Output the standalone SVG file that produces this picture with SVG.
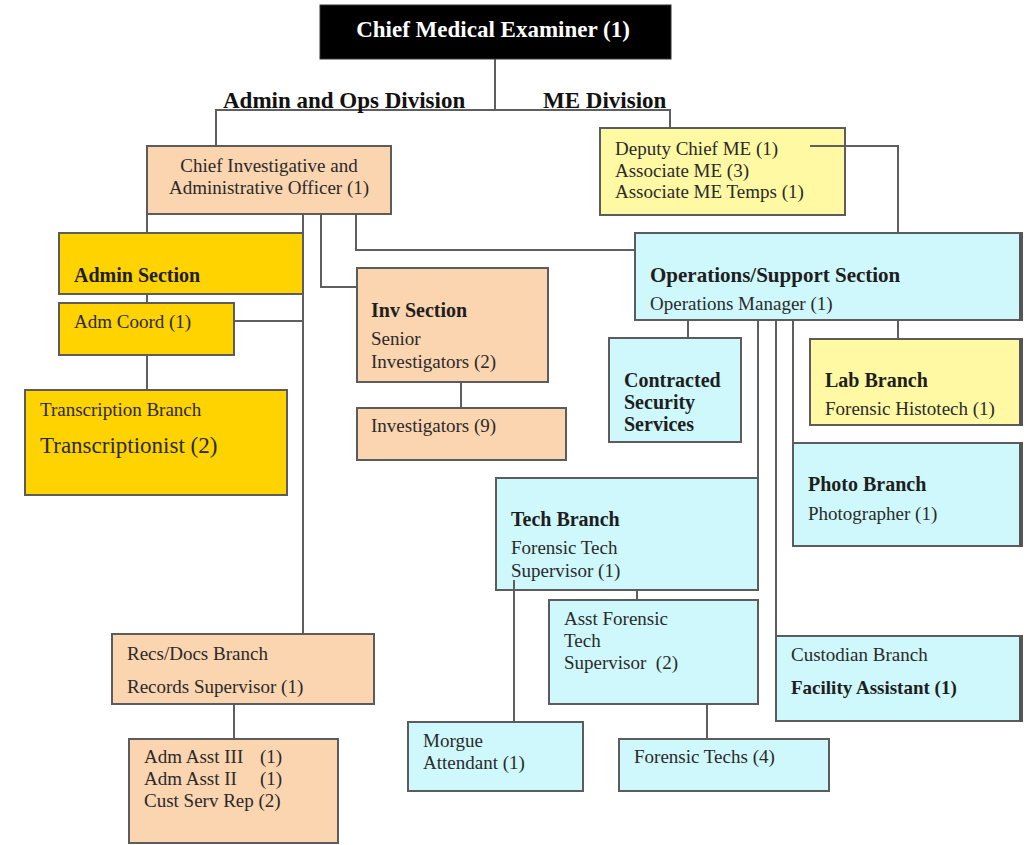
<svg xmlns="http://www.w3.org/2000/svg" width="1031" height="845" viewBox="0 0 1031 845">
<style>
.box{stroke:#5c5c5c;stroke-width:2}
.peach{fill:#FBD4B0}
.gold{fill:#FFD300}
.lyel{fill:#FFF9A4}
.cyan{fill:#CEF8FC}
.shadow{fill:#555}
.t{font-family:"Liberation Serif","Times New Roman",serif;font-size:19px;fill:#2a2a2a}
.b{font-family:"Liberation Serif","Times New Roman",serif;font-size:20px;font-weight:bold;fill:#1e1e1e}
.div{font-family:"Liberation Serif","Times New Roman",serif;font-size:23px;font-weight:bold;fill:#111}
.conn line,.conn polyline{stroke:#5f5f5f;stroke-width:2;fill:none}
</style>
<rect width="1031" height="845" fill="#fff"/>
<g class="conn" id="connectors">
<line x1="495" y1="59" x2="495" y2="110"/>
<polyline points="216,146 216,110 670,110 670,128"/>
<polyline points="810,146 898,146 898,233"/>
<line x1="147" y1="214" x2="147" y2="233"/>
<line x1="147" y1="294" x2="147" y2="303"/>
<line x1="147" y1="355" x2="147" y2="390"/>
<line x1="303" y1="214" x2="303" y2="634"/>
<line x1="234" y1="321" x2="303" y2="321"/>
<polyline points="321,214 321,287 357,287"/>
<polyline points="356,214 356,250 635,250"/>
<line x1="461" y1="382" x2="461" y2="408"/>
<line x1="234" y1="704" x2="234" y2="739"/>
<line x1="688" y1="320" x2="688" y2="338"/>
<line x1="898" y1="320" x2="898" y2="339"/>
<line x1="758" y1="320" x2="758" y2="478"/>
<line x1="776" y1="320" x2="776" y2="636"/>
<line x1="793" y1="320" x2="793" y2="443"/>
<line x1="637" y1="590" x2="637" y2="600"/>
<line x1="514" y1="580" x2="514" y2="722"/>
<line x1="707" y1="704" x2="707" y2="739"/>
</g>
<g id="chief-me">
<rect x="320" y="5" width="351" height="54" fill="#000" stroke="#333" stroke-width="1"/>
<text x="493" y="37" text-anchor="middle" style="font-family:'Liberation Serif','Times New Roman',serif;font-size:23px;font-weight:bold;fill:#fff">Chief Medical Examiner (1)</text>
</g>
<g id="division-labels">
<text class="div" x="223" y="108">Admin and Ops Division</text>
<text class="div" x="543" y="108">ME Division</text>
</g>
<g id="chief-inv">
<rect class="box peach" x="147" y="146" width="244" height="68"/>
<text class="t" x="269" y="172" text-anchor="middle">Chief Investigative and</text>
<text class="t" x="269" y="194" text-anchor="middle">Administrative Officer (1)</text>
</g>
<g id="deputy">
<rect class="box lyel" x="600" y="128" width="245" height="87"/>
<text class="t" x="615" y="155">Deputy Chief ME (1)</text>
<text class="t" x="615" y="177">Associate ME (3)</text>
<text class="t" x="615" y="198">Associate ME Temps (1)</text>
</g>
<line x1="810" y1="146" x2="845" y2="146" stroke="#5f5f5f" stroke-width="2"/>
<g id="admin-section">
<rect class="box gold" x="59" y="233" width="244" height="61"/>
<text class="b" x="74" y="282">Admin Section</text>
</g>
<g id="adm-coord">
<rect class="box gold" x="59" y="303" width="175" height="52"/>
<text class="t" x="74" y="328">Adm Coord (1)</text>
</g>
<g id="transcription">
<rect class="box gold" x="25" y="390" width="262" height="105"/>
<text class="t" x="40" y="416">Transcription Branch</text>
<text class="t" x="40" y="453" style="font-size:23px">Transcriptionist (2)</text>
</g>
<g id="inv-section">
<rect class="box peach" x="357" y="268" width="191" height="114"/>
<text class="b" x="371" y="317">Inv Section</text>
<text class="t" x="371" y="345">Senior</text>
<text class="t" x="371" y="368">Investigators (2)</text>
</g>
<g id="investigators">
<rect class="box peach" x="357" y="408" width="209" height="52"/>
<text class="t" x="371" y="432">Investigators (9)</text>
</g>
<g id="ops-section">
<rect class="box cyan" x="635" y="233" width="387" height="87"/>
<rect class="shadow" x="1019" y="233" width="4" height="88"/>
<text class="b" x="650" y="282" style="font-size:21px">Operations/Support Section</text>
<text class="t" x="650" y="310">Operations Manager (1)</text>
</g>
<g id="contracted">
<rect class="box cyan" x="609" y="338" width="132" height="104"/>
<text class="b" x="624" y="387">Contracted</text>
<text class="b" x="624" y="409">Security</text>
<text class="b" x="624" y="431">Services</text>
</g>
<g id="lab-branch">
<rect class="box lyel" x="810" y="339" width="212" height="86"/>
<rect class="shadow" x="1019" y="339" width="4" height="87"/>
<text class="b" x="825" y="387">Lab Branch</text>
<text class="t" x="825" y="415">Forensic Histotech (1)</text>
</g>
<g id="photo-branch">
<rect class="box cyan" x="793" y="443" width="229" height="103"/>
<rect class="shadow" x="1019" y="443" width="4" height="104"/>
<text class="b" x="808" y="491">Photo Branch</text>
<text class="t" x="808" y="520">Photographer (1)</text>
</g>
<g id="tech-branch">
<rect class="box cyan" x="496" y="478" width="262" height="112"/>
<text class="b" x="511" y="526">Tech Branch</text>
<text class="t" x="511" y="554">Forensic Tech</text>
<text class="t" x="511" y="577">Supervisor (1)</text>
</g>
<line x1="514" y1="580" x2="514" y2="590" stroke="#5f5f5f" stroke-width="2"/>
<g id="asst-forensic">
<rect class="box cyan" x="549" y="600" width="209" height="104"/>
<text class="t" x="564" y="625">Asst Forensic</text>
<text class="t" x="564" y="647">Tech</text>
<text class="t" x="564" y="669" xml:space="preserve">Supervisor  (2)</text>
</g>
<g id="custodian">
<rect class="box cyan" x="776" y="636" width="246" height="85"/>
<rect class="shadow" x="1019" y="636" width="4" height="86"/>
<text class="t" x="791" y="661">Custodian Branch</text>
<text class="b" x="791" y="694" style="font-size:19px">Facility Assistant (1)</text>
</g>
<g id="morgue">
<rect class="box cyan" x="408" y="722" width="175" height="69"/>
<text class="t" x="423" y="747">Morgue</text>
<text class="t" x="423" y="769">Attendant (1)</text>
</g>
<g id="forensic-techs">
<rect class="box cyan" x="619" y="739" width="210" height="52"/>
<text class="t" x="634" y="763">Forensic Techs (4)</text>
</g>
<g id="recs-docs">
<rect class="box peach" x="112" y="634" width="262" height="70"/>
<text class="t" x="127" y="660">Recs/Docs Branch</text>
<text class="t" x="127" y="693">Records Supervisor (1)</text>
</g>
<g id="adm-asst">
<rect class="box peach" x="129" y="739" width="209" height="104"/>
<text class="t" x="144" y="763">Adm Asst III<tspan x="260">(1)</tspan></text>
<text class="t" x="144" y="785">Adm Asst II<tspan x="260">(1)</tspan></text>
<text class="t" x="144" y="807">Cust Serv Rep (2)</text>
</g>
</svg>
